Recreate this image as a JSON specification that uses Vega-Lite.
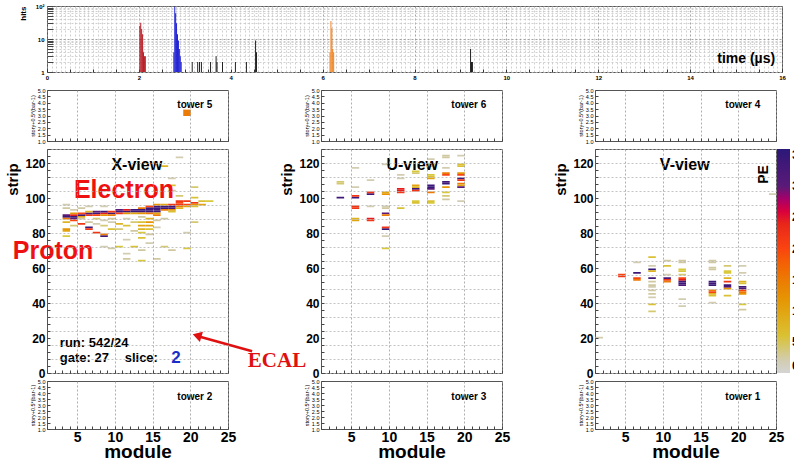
{
"$schema": "https://vega.github.io/schema/vega-lite/v6.json",
"background": "white",
"padding": {"left": 5, "top": 2, "right": 0, "bottom": 0},
"config": {
  "font": "Liberation Sans",
  "view": {"stroke": "#555555", "strokeWidth": 1},
  "axis": {"domain": false, "labelFont": "Liberation Sans", "titleFont": "Liberation Sans", "labelFontWeight": "bold", "titleFontWeight": "bold", "labelColor": "#000000", "titleColor": "#000000", "tickColor": "#444444", "labelOverlap": false, "labelFlush": false, "gridDash": [2, 2], "gridWidth": 0.8},
  "text": {"font": "Liberation Sans"}
},
"datasets": {
  "hits": [
    {"t": 2.01, "hits": 25, "src": "a"}, {"t": 2.03, "hits": 31, "src": "a"}, {"t": 2.05, "hits": 20, "src": "a"}, {"t": 2.07, "hits": 14, "src": "a"}, {"t": 2.09, "hits": 4, "src": "a"}, {"t": 2.11, "hits": 3, "src": "a"}, {"t": 2.13, "hits": 3, "src": "a"},
    {"t": 2.75, "hits": 4, "src": "b"}, {"t": 2.77, "hits": 95, "src": "b"}, {"t": 2.79, "hits": 60, "src": "b"}, {"t": 2.81, "hits": 30, "src": "b"}, {"t": 2.83, "hits": 14, "src": "b"}, {"t": 2.85, "hits": 9, "src": "b"}, {"t": 2.87, "hits": 5, "src": "b"}, {"t": 2.89, "hits": 3, "src": "b"}, {"t": 2.91, "hits": 2, "src": "b"},
    {"t": 6.15, "hits": 4, "src": "c"}, {"t": 6.17, "hits": 35, "src": "c"}, {"t": 6.19, "hits": 21, "src": "c"}, {"t": 6.21, "hits": 5, "src": "c"}, {"t": 6.23, "hits": 4, "src": "c"},
    {"t": 3.15, "hits": 2, "src": "d"}, {"t": 3.27, "hits": 2, "src": "d"}, {"t": 3.31, "hits": 2, "src": "d"}, {"t": 3.35, "hits": 2, "src": "d"}, {"t": 3.55, "hits": 2, "src": "d"}, {"t": 3.67, "hits": 3, "src": "d"}, {"t": 3.69, "hits": 2, "src": "d"}, {"t": 3.81, "hits": 2, "src": "d"}, {"t": 4.09, "hits": 2, "src": "d"}, {"t": 4.33, "hits": 2, "src": "d"}, {"t": 4.53, "hits": 9, "src": "d"}, {"t": 4.55, "hits": 4, "src": "d"}, {"t": 9.21, "hits": 5, "src": "d"}, {"t": 9.23, "hits": 2, "src": "d"}, {"t": 9.25, "hits": 2, "src": "d"}
  ],
  "towers": [{"tower": 5, "module": 19, "story": 3.2, "pe": 15}],
  "cells": [
    {"view":"X","module":3,"strip":89,"pe":34},{"view":"X","module":3,"strip":90,"pe":30},{"view":"X","module":4,"strip":89,"pe":34},{"view":"X","module":4,"strip":90,"pe":25},{"view":"X","module":4,"strip":88,"pe":30},{"view":"X","module":5,"strip":90,"pe":34},{"view":"X","module":5,"strip":91,"pe":20},{"view":"X","module":6,"strip":90,"pe":22},{"view":"X","module":6,"strip":91,"pe":32},{"view":"X","module":7,"strip":91,"pe":34},{"view":"X","module":8,"strip":91,"pe":25},{"view":"X","module":8,"strip":92,"pe":34},{"view":"X","module":9,"strip":91,"pe":34},{"view":"X","module":9,"strip":92,"pe":22},{"view":"X","module":10,"strip":92,"pe":34},{"view":"X","module":11,"strip":92,"pe":34},{"view":"X","module":11,"strip":93,"pe":25},{"view":"X","module":12,"strip":93,"pe":34},{"view":"X","module":13,"strip":92,"pe":34},{"view":"X","module":13,"strip":93,"pe":34},{"view":"X","module":14,"strip":92,"pe":34},{"view":"X","module":14,"strip":93,"pe":34},{"view":"X","module":14,"strip":94,"pe":34},{"view":"X","module":15,"strip":92,"pe":34},{"view":"X","module":15,"strip":93,"pe":34},{"view":"X","module":15,"strip":94,"pe":34},{"view":"X","module":15,"strip":95,"pe":34},{"view":"X","module":16,"strip":94,"pe":34},{"view":"X","module":16,"strip":95,"pe":34},{"view":"X","module":17,"strip":95,"pe":34},{"view":"X","module":17,"strip":94,"pe":32},{"view":"X","module":18,"strip":96,"pe":22},{"view":"X","module":18,"strip":97,"pe":20},{"view":"X","module":18,"strip":98,"pe":22},{"view":"X","module":19,"strip":98,"pe":22},{"view":"X","module":19,"strip":96,"pe":20},{"view":"X","module":20,"strip":97,"pe":22},{"view":"X","module":20,"strip":96,"pe":12},{"view":"X","module":21,"strip":96,"pe":10},{"view":"X","module":21,"strip":98,"pe":6},
    {"view":"X","module":3,"strip":88,"pe":15},{"view":"X","module":4,"strip":91,"pe":12},{"view":"X","module":5,"strip":89,"pe":10},{"view":"X","module":6,"strip":92,"pe":8},{"view":"X","module":7,"strip":90,"pe":20},{"view":"X","module":7,"strip":92,"pe":30},{"view":"X","module":8,"strip":90,"pe":12},{"view":"X","module":9,"strip":90,"pe":15},{"view":"X","module":10,"strip":91,"pe":22},{"view":"X","module":10,"strip":93,"pe":30},{"view":"X","module":11,"strip":91,"pe":12},{"view":"X","module":12,"strip":92,"pe":34},{"view":"X","module":12,"strip":91,"pe":10},{"view":"X","module":13,"strip":94,"pe":15},{"view":"X","module":13,"strip":91,"pe":12},{"view":"X","module":14,"strip":95,"pe":20},{"view":"X","module":14,"strip":91,"pe":15},{"view":"X","module":15,"strip":96,"pe":12},{"view":"X","module":15,"strip":91,"pe":10},{"view":"X","module":16,"strip":93,"pe":15},{"view":"X","module":16,"strip":96,"pe":10},{"view":"X","module":17,"strip":96,"pe":22},{"view":"X","module":17,"strip":93,"pe":12},{"view":"X","module":18,"strip":95,"pe":15},{"view":"X","module":19,"strip":95,"pe":10},{"view":"X","module":20,"strip":95,"pe":6},{"view":"X","module":22,"strip":98,"pe":5},
    {"view":"X","module":4,"strip":87,"pe":20},{"view":"X","module":5,"strip":85,"pe":22},{"view":"X","module":6,"strip":83,"pe":34},{"view":"X","module":6,"strip":82,"pe":22},{"view":"X","module":7,"strip":80,"pe":22},{"view":"X","module":8,"strip":78,"pe":34},{"view":"X","module":8,"strip":79,"pe":15},
    {"view":"X","module":3,"strip":96,"pe":2},{"view":"X","module":3,"strip":94,"pe":3},{"view":"X","module":3,"strip":86,"pe":8},{"view":"X","module":3,"strip":82,"pe":12},{"view":"X","module":3,"strip":81,"pe":10},{"view":"X","module":3,"strip":78,"pe":5},{"view":"X","module":4,"strip":93,"pe":2},{"view":"X","module":4,"strip":84,"pe":4},{"view":"X","module":5,"strip":94,"pe":3},{"view":"X","module":5,"strip":88,"pe":3},{"view":"X","module":6,"strip":95,"pe":2},{"view":"X","module":6,"strip":86,"pe":3},{"view":"X","module":7,"strip":88,"pe":4},{"view":"X","module":7,"strip":85,"pe":2},{"view":"X","module":8,"strip":95,"pe":2},{"view":"X","module":8,"strip":87,"pe":2},{"view":"X","module":8,"strip":84,"pe":4},{"view":"X","module":8,"strip":72,"pe":2},{"view":"X","module":9,"strip":88,"pe":3},{"view":"X","module":9,"strip":86,"pe":2},{"view":"X","module":9,"strip":82,"pe":6},{"view":"X","module":9,"strip":71,"pe":3},{"view":"X","module":10,"strip":85,"pe":8},{"view":"X","module":10,"strip":82,"pe":4},{"view":"X","module":10,"strip":72,"pe":5},{"view":"X","module":11,"strip":88,"pe":2},{"view":"X","module":11,"strip":84,"pe":6},{"view":"X","module":11,"strip":76,"pe":2},{"view":"X","module":11,"strip":68,"pe":2},{"view":"X","module":11,"strip":65,"pe":3},{"view":"X","module":12,"strip":86,"pe":4},{"view":"X","module":12,"strip":81,"pe":3},{"view":"X","module":12,"strip":72,"pe":6},{"view":"X","module":13,"strip":89,"pe":3},{"view":"X","module":13,"strip":86,"pe":6},{"view":"X","module":13,"strip":84,"pe":10},{"view":"X","module":13,"strip":82,"pe":8},{"view":"X","module":13,"strip":80,"pe":5},{"view":"X","module":13,"strip":77,"pe":6},{"view":"X","module":13,"strip":70,"pe":3},{"view":"X","module":13,"strip":64,"pe":5},{"view":"X","module":14,"strip":88,"pe":8},{"view":"X","module":14,"strip":86,"pe":12},{"view":"X","module":14,"strip":84,"pe":10},{"view":"X","module":14,"strip":82,"pe":6},{"view":"X","module":14,"strip":79,"pe":3},{"view":"X","module":14,"strip":74,"pe":2},{"view":"X","module":15,"strip":90,"pe":15},{"view":"X","module":15,"strip":87,"pe":3},{"view":"X","module":15,"strip":83,"pe":2},{"view":"X","module":15,"strip":65,"pe":3},{"view":"X","module":16,"strip":118,"pe":8},{"view":"X","module":16,"strip":88,"pe":3},{"view":"X","module":16,"strip":72,"pe":4},{"view":"X","module":17,"strip":111,"pe":2},{"view":"X","module":17,"strip":107,"pe":6},{"view":"X","module":17,"strip":104,"pe":3},{"view":"X","module":17,"strip":92,"pe":6},{"view":"X","module":17,"strip":70,"pe":3},{"view":"X","module":18,"strip":123,"pe":2},{"view":"X","module":18,"strip":101,"pe":4},{"view":"X","module":18,"strip":94,"pe":8},{"view":"X","module":19,"strip":80,"pe":2},{"view":"X","module":19,"strip":71,"pe":5},{"view":"X","module":20,"strip":106,"pe":4},{"view":"X","module":20,"strip":100,"pe":6},{"view":"X","module":20,"strip":86,"pe":4},
    {"view":"U","module":3,"strip":108,"pe":4},{"view":"U","module":3,"strip":109,"pe":4},{"view":"U","module":3,"strip":100,"pe":34},
    {"view":"U","module":5,"strip":117,"pe":2},{"view":"U","module":5,"strip":106,"pe":2},{"view":"U","module":5,"strip":100,"pe":34},{"view":"U","module":5,"strip":101,"pe":22},{"view":"U","module":5,"strip":94,"pe":22},{"view":"U","module":5,"strip":95,"pe":22},{"view":"U","module":5,"strip":87,"pe":10},{"view":"U","module":5,"strip":88,"pe":8},
    {"view":"U","module":7,"strip":110,"pe":2},{"view":"U","module":7,"strip":102,"pe":34},{"view":"U","module":7,"strip":103,"pe":22},{"view":"U","module":7,"strip":95,"pe":2},{"view":"U","module":7,"strip":88,"pe":25},{"view":"U","module":7,"strip":87,"pe":22},
    {"view":"U","module":9,"strip":119,"pe":2},{"view":"U","module":9,"strip":103,"pe":10},{"view":"U","module":9,"strip":102,"pe":12},{"view":"U","module":9,"strip":95,"pe":2},{"view":"U","module":9,"strip":94,"pe":3},{"view":"U","module":9,"strip":91,"pe":30},{"view":"U","module":9,"strip":90,"pe":15},{"view":"U","module":9,"strip":82,"pe":35},{"view":"U","module":9,"strip":83,"pe":22},{"view":"U","module":9,"strip":78,"pe":2},{"view":"U","module":9,"strip":71,"pe":5},
    {"view":"U","module":11,"strip":113,"pe":2},{"view":"U","module":11,"strip":111,"pe":2},{"view":"U","module":11,"strip":104,"pe":25},{"view":"U","module":11,"strip":105,"pe":25},{"view":"U","module":11,"strip":103,"pe":22},{"view":"U","module":11,"strip":94,"pe":6},
    {"view":"U","module":13,"strip":115,"pe":5},{"view":"U","module":13,"strip":114,"pe":4},{"view":"U","module":13,"strip":107,"pe":10},{"view":"U","module":13,"strip":106,"pe":8},{"view":"U","module":13,"strip":105,"pe":34},{"view":"U","module":13,"strip":104,"pe":22},{"view":"U","module":13,"strip":97,"pe":6},{"view":"U","module":13,"strip":98,"pe":5},
    {"view":"U","module":15,"strip":122,"pe":2},{"view":"U","module":15,"strip":119,"pe":4},{"view":"U","module":15,"strip":118,"pe":3},{"view":"U","module":15,"strip":113,"pe":5},{"view":"U","module":15,"strip":112,"pe":6},{"view":"U","module":15,"strip":111,"pe":10},{"view":"U","module":15,"strip":106,"pe":35},{"view":"U","module":15,"strip":107,"pe":34},{"view":"U","module":15,"strip":105,"pe":30},{"view":"U","module":15,"strip":103,"pe":15},{"view":"U","module":15,"strip":98,"pe":6},{"view":"U","module":15,"strip":97,"pe":5},
    {"view":"U","module":17,"strip":124,"pe":3},{"view":"U","module":17,"strip":123,"pe":3},{"view":"U","module":17,"strip":117,"pe":2},{"view":"U","module":17,"strip":114,"pe":15},{"view":"U","module":17,"strip":113,"pe":20},{"view":"U","module":17,"strip":109,"pe":34},{"view":"U","module":17,"strip":108,"pe":34},{"view":"U","module":17,"strip":106,"pe":12},{"view":"U","module":17,"strip":103,"pe":5},{"view":"U","module":17,"strip":101,"pe":4},{"view":"U","module":17,"strip":99,"pe":3},
    {"view":"U","module":19,"strip":124,"pe":2},{"view":"U","module":19,"strip":119,"pe":6},{"view":"U","module":19,"strip":118,"pe":6},{"view":"U","module":19,"strip":114,"pe":12},{"view":"U","module":19,"strip":113,"pe":20},{"view":"U","module":19,"strip":111,"pe":34},{"view":"U","module":19,"strip":110,"pe":22},{"view":"U","module":19,"strip":108,"pe":15},{"view":"U","module":19,"strip":107,"pe":10},{"view":"U","module":19,"strip":106,"pe":30},{"view":"U","module":19,"strip":98,"pe":2},
    {"view":"V","module":1,"strip":20,"pe":2},
    {"view":"V","module":4,"strip":55,"pe":22},{"view":"V","module":4,"strip":56,"pe":20},
    {"view":"V","module":6,"strip":63,"pe":2},{"view":"V","module":6,"strip":57,"pe":34},{"view":"V","module":6,"strip":54,"pe":20},{"view":"V","module":6,"strip":53,"pe":15},
    {"view":"V","module":8,"strip":66,"pe":6},{"view":"V","module":8,"strip":61,"pe":2},{"view":"V","module":8,"strip":59,"pe":35},{"view":"V","module":8,"strip":58,"pe":8},{"view":"V","module":8,"strip":54,"pe":34},{"view":"V","module":8,"strip":52,"pe":3},{"view":"V","module":8,"strip":50,"pe":3},{"view":"V","module":8,"strip":49,"pe":2},{"view":"V","module":8,"strip":47,"pe":3},{"view":"V","module":8,"strip":45,"pe":3},{"view":"V","module":8,"strip":43,"pe":2},{"view":"V","module":8,"strip":39,"pe":6},{"view":"V","module":8,"strip":35,"pe":4},
    {"view":"V","module":10,"strip":64,"pe":3},{"view":"V","module":10,"strip":61,"pe":6},{"view":"V","module":10,"strip":56,"pe":2},{"view":"V","module":10,"strip":54,"pe":32},{"view":"V","module":10,"strip":53,"pe":22},{"view":"V","module":10,"strip":52,"pe":15},
    {"view":"V","module":12,"strip":64,"pe":3},{"view":"V","module":12,"strip":63,"pe":3},{"view":"V","module":12,"strip":59,"pe":5},{"view":"V","module":12,"strip":58,"pe":5},{"view":"V","module":12,"strip":56,"pe":4},{"view":"V","module":12,"strip":54,"pe":20},{"view":"V","module":12,"strip":53,"pe":25},{"view":"V","module":12,"strip":52,"pe":34},{"view":"V","module":12,"strip":51,"pe":34},{"view":"V","module":12,"strip":50,"pe":32},{"view":"V","module":12,"strip":42,"pe":2},{"view":"V","module":12,"strip":38,"pe":2},
    {"view":"V","module":16,"strip":64,"pe":3},{"view":"V","module":16,"strip":63,"pe":3},{"view":"V","module":16,"strip":60,"pe":3},{"view":"V","module":16,"strip":59,"pe":3},{"view":"V","module":16,"strip":52,"pe":34},{"view":"V","module":16,"strip":51,"pe":34},{"view":"V","module":16,"strip":50,"pe":34},{"view":"V","module":16,"strip":47,"pe":15},{"view":"V","module":16,"strip":46,"pe":20},{"view":"V","module":16,"strip":45,"pe":8},{"view":"V","module":16,"strip":44,"pe":6},{"view":"V","module":16,"strip":40,"pe":2},
    {"view":"V","module":18,"strip":61,"pe":4},{"view":"V","module":18,"strip":58,"pe":5},{"view":"V","module":18,"strip":57,"pe":5},{"view":"V","module":18,"strip":54,"pe":8},{"view":"V","module":18,"strip":52,"pe":22},{"view":"V","module":18,"strip":50,"pe":34},{"view":"V","module":18,"strip":49,"pe":32},{"view":"V","module":18,"strip":48,"pe":12},{"view":"V","module":18,"strip":44,"pe":6},
    {"view":"V","module":20,"strip":61,"pe":2},{"view":"V","module":20,"strip":57,"pe":2},{"view":"V","module":20,"strip":52,"pe":8},{"view":"V","module":20,"strip":51,"pe":6},{"view":"V","module":20,"strip":49,"pe":34},{"view":"V","module":20,"strip":48,"pe":32},{"view":"V","module":20,"strip":47,"pe":20},{"view":"V","module":20,"strip":46,"pe":15},{"view":"V","module":20,"strip":45,"pe":12},{"view":"V","module":20,"strip":39,"pe":5},{"view":"V","module":20,"strip":36,"pe":3},
    {"view":"V","module":24,"strip":102,"pe":2}
  ]
},
"spacing": 18,
"bounds": "flush",
"vconcat": [
  {
    "width": 735, "height": 66,
    "layer": [
      {"data": {"name": "hits"}, "transform": [{"filter": "datum.src === 'a'"}], "mark": {"type": "bar", "color": "#b3141c", "binSpacing": 0},
        "encoding": {
          "x": {"field": "t", "type": "quantitative", "bin": {"step": 0.02, "extent": [0, 16]}, "scale": {"domain": [0, 16], "nice": false, "zero": false},
            "axis": {"title": null, "values": [0,0.1,0.2,0.3,0.4,0.5,0.6,0.7,0.8,0.9,1,1.1,1.2,1.3,1.4,1.5,1.6,1.7,1.8,1.9,2,2.1,2.2,2.3,2.4,2.5,2.6,2.7,2.8,2.9,3,3.1,3.2,3.3,3.4,3.5,3.6,3.7,3.8,3.9,4,4.1,4.2,4.3,4.4,4.5,4.6,4.7,4.8,4.9,5,5.1,5.2,5.3,5.4,5.5,5.6,5.7,5.8,5.9,6,6.1,6.2,6.3,6.4,6.5,6.6,6.7,6.8,6.9,7,7.1,7.2,7.3,7.4,7.5,7.6,7.7,7.8,7.9,8,8.1,8.2,8.3,8.4,8.5,8.6,8.7,8.8,8.9,9,9.1,9.2,9.3,9.4,9.5,9.6,9.7,9.8,9.9,10,10.1,10.2,10.3,10.4,10.5,10.6,10.7,10.8,10.9,11,11.1,11.2,11.3,11.4,11.5,11.6,11.7,11.8,11.9,12,12.1,12.2,12.3,12.4,12.5,12.6,12.7,12.8,12.9,13,13.1,13.2,13.3,13.4,13.5,13.6,13.7,13.8,13.9,14,14.1,14.2,14.3,14.4,14.5,14.6,14.7,14.8,14.9,15,15.1,15.2,15.3,15.4,15.5,15.6,15.7,15.8,15.9,16],
              "labelExpr": "datum.value % 2 === 0 ? '' + datum.value : ''", "labelFontSize": 6, "labelPadding": 5, "tickSize": -3,
              "tickColor": {"condition": {"test": "(datum.value * 2) % 1 === 0", "value": "#333333"}, "value": "rgba(0,0,0,0)"},
              "grid": true, "gridColor": {"condition": {"test": "datum.value % 2 === 0", "value": "#8c8c8c"}, "value": "#c4c4c4"}}},
          "y": {"field": "hits", "type": "quantitative", "scale": {"type": "log", "domain": [1, 100], "nice": false},
            "axis": {"values": [1,2,3,4,5,6,7,8,9,10,20,30,40,50,60,70,80,90,100], "labelExpr": "datum.value === 1 ? '1' : datum.value === 10 ? '10' : datum.value === 100 ? '10²' : ''",
              "labelFontSize": 6, "labelPadding": 9, "tickSize": -6, "title": "hits", "titleFontSize": 8, "titleAnchor": "end", "titlePadding": 8,
              "grid": true, "gridColor": {"condition": {"test": "datum.value === 10 || datum.value === 100", "value": "#8c8c8c"}, "value": "#c4c4c4"}}},
          "y2": {"datum": 1}
        }},
      {"data": {"name": "hits"}, "transform": [{"filter": "datum.src === 'b'"}], "mark": {"type": "bar", "color": "#1414d2", "binSpacing": 0},
        "encoding": {
          "x": {"field": "t", "type": "quantitative", "bin": {"step": 0.02, "extent": [0, 16]}, "scale": {"domain": [0, 16], "nice": false, "zero": false}},
          "y": {"field": "hits", "type": "quantitative", "scale": {"type": "log", "domain": [1, 100], "nice": false}},
          "y2": {"datum": 1}
        }},
      {"data": {"name": "hits"}, "transform": [{"filter": "datum.src === 'c'"}], "mark": {"type": "bar", "color": "#f07a10", "binSpacing": 0},
        "encoding": {
          "x": {"field": "t", "type": "quantitative", "bin": {"step": 0.02, "extent": [0, 16]}, "scale": {"domain": [0, 16], "nice": false, "zero": false}},
          "y": {"field": "hits", "type": "quantitative", "scale": {"type": "log", "domain": [1, 100], "nice": false}},
          "y2": {"datum": 1}
        }},
      {"data": {"name": "hits"}, "transform": [{"filter": "datum.src === 'd'"}], "mark": {"type": "bar", "color": "#111111", "binSpacing": 0},
        "encoding": {
          "x": {"field": "t", "type": "quantitative", "bin": {"step": 0.02, "extent": [0, 16]}, "scale": {"domain": [0, 16], "nice": false, "zero": false}},
          "y": {"field": "hits", "type": "quantitative", "scale": {"type": "log", "domain": [1, 100], "nice": false}},
          "y2": {"datum": 1}
        }},
      {"data": {"values": [{"label": "time (µs)"}]}, "mark": {"type": "text", "fontSize": 14, "fontWeight": "bold", "align": "right", "baseline": "middle"},
        "encoding": {"x": {"datum": 15.85, "type": "quantitative"}, "y": {"datum": 2.4, "type": "quantitative"}, "text": {"field": "label"}}}
    ]
  },
  {
    "columns": 3,
    "spacing": {"row": 8, "column": 93},
    "bounds": "flush",
    "align": "each",
    "concat": [
      {"width": 181, "height": 51, "layer": [
        {"data": {"name": "towers"}, "transform": [{"filter": "datum.tower === 5"}], "mark": "rect",
          "encoding": {
            "x": {"field": "module", "type": "quantitative", "bin": {"step": 1, "extent": [0, 26]}, "scale": {"domain": [1, 25], "nice": false, "zero": false}, "axis": {"values": [1,2,3,4,5,6,7,8,9,10,11,12,13,14,15,16,17,18,19,20,21,22,23,24,25], "labels": false, "tickSize": -3, "title": null, "grid": true, "gridColor": {"condition": {"test": "datum.value % 5 === 0", "value": "#9a9a9a"}, "value": "rgba(0,0,0,0)"}}},
            "y": {"field": "story", "type": "quantitative", "bin": {"step": 0.5, "extent": [1, 5]}, "scale": {"domain": [1, 5], "nice": false, "zero": false}, "axis": {"values": [1,1.5,2,2.5,3,3.5,4,4.5,5], "labelFontSize": 5.5, "labelFontWeight": "normal", "labelPadding": 5, "tickSize": -3, "title": "story+0.5*(bar-1)", "titleFontSize": 5.5, "titleFontWeight": "normal", "titlePadding": 2, "grid": false}},
            "color": {"field": "pe", "type": "quantitative", "scale": {"domain": [0, 3, 5, 10, 15, 20, 25, 30, 36], "range": ["#d4d4d4", "#d0c8a0", "#d8c83c", "#e2a410", "#ec7a06", "#fa4410", "#e41c1c", "#5a1a78", "#2a1878"]}, "legend": {"orient": "none", "legendX": 730, "legendY": 143, "direction": "vertical", "gradientLength": 224, "gradientThickness": 13, "title": null, "values": [0,5,10,15,20,25,30,35], "labelFontSize": 13, "labelFontWeight": "bold", "labelOffset": 2, "gradientStrokeWidth": 0}}
          }},
        {"data": {"values": [{"label": "tower  5"}]}, "mark": {"type": "text", "fontSize": 10, "fontWeight": "bold"}, "encoding": {"x": {"datum": 20.6}, "y": {"datum": 3.8}, "text": {"field": "label"}}}
      ]},
      {"width": 181, "height": 51, "layer": [
        {"data": {"name": "towers"}, "transform": [{"filter": "datum.tower === 6"}], "mark": "rect",
          "encoding": {
            "x": {"field": "module", "type": "quantitative", "bin": {"step": 1, "extent": [0, 26]}, "scale": {"domain": [1, 25], "nice": false, "zero": false}, "axis": {"values": [1,2,3,4,5,6,7,8,9,10,11,12,13,14,15,16,17,18,19,20,21,22,23,24,25], "labels": false, "tickSize": -3, "title": null, "grid": true, "gridColor": {"condition": {"test": "datum.value % 5 === 0", "value": "#9a9a9a"}, "value": "rgba(0,0,0,0)"}}},
            "y": {"field": "story", "type": "quantitative", "bin": {"step": 0.5, "extent": [1, 5]}, "scale": {"domain": [1, 5], "nice": false, "zero": false}, "axis": {"values": [1,1.5,2,2.5,3,3.5,4,4.5,5], "labelFontSize": 5.5, "labelFontWeight": "normal", "labelPadding": 5, "tickSize": -3, "title": "story+0.5*(bar-1)", "titleFontSize": 5.5, "titleFontWeight": "normal", "titlePadding": 2, "grid": false}},
            "color": {"field": "pe", "type": "quantitative", "scale": {"domain": [0, 3, 5, 10, 15, 20, 25, 30, 36], "range": ["#d4d4d4", "#d0c8a0", "#d8c83c", "#e2a410", "#ec7a06", "#fa4410", "#e41c1c", "#5a1a78", "#2a1878"]}, "legend": {"orient": "none", "legendX": 730, "legendY": 143, "direction": "vertical", "gradientLength": 224, "gradientThickness": 13, "title": null, "values": [0,5,10,15,20,25,30,35], "labelFontSize": 13, "labelFontWeight": "bold", "labelOffset": 2, "gradientStrokeWidth": 0}}
          }},
        {"data": {"values": [{"label": "tower  6"}]}, "mark": {"type": "text", "fontSize": 10, "fontWeight": "bold"}, "encoding": {"x": {"datum": 20.6}, "y": {"datum": 3.8}, "text": {"field": "label"}}}
      ]},
      {"width": 181, "height": 51, "layer": [
        {"data": {"name": "towers"}, "transform": [{"filter": "datum.tower === 4"}], "mark": "rect",
          "encoding": {
            "x": {"field": "module", "type": "quantitative", "bin": {"step": 1, "extent": [0, 26]}, "scale": {"domain": [1, 25], "nice": false, "zero": false}, "axis": {"values": [1,2,3,4,5,6,7,8,9,10,11,12,13,14,15,16,17,18,19,20,21,22,23,24,25], "labels": false, "tickSize": -3, "title": null, "grid": true, "gridColor": {"condition": {"test": "datum.value % 5 === 0", "value": "#9a9a9a"}, "value": "rgba(0,0,0,0)"}}},
            "y": {"field": "story", "type": "quantitative", "bin": {"step": 0.5, "extent": [1, 5]}, "scale": {"domain": [1, 5], "nice": false, "zero": false}, "axis": {"values": [1,1.5,2,2.5,3,3.5,4,4.5,5], "labelFontSize": 5.5, "labelFontWeight": "normal", "labelPadding": 5, "tickSize": -3, "title": "story+0.5*(bar-1)", "titleFontSize": 5.5, "titleFontWeight": "normal", "titlePadding": 2, "grid": false}},
            "color": {"field": "pe", "type": "quantitative", "scale": {"domain": [0, 3, 5, 10, 15, 20, 25, 30, 36], "range": ["#d4d4d4", "#d0c8a0", "#d8c83c", "#e2a410", "#ec7a06", "#fa4410", "#e41c1c", "#5a1a78", "#2a1878"]}, "legend": {"orient": "none", "legendX": 730, "legendY": 143, "direction": "vertical", "gradientLength": 224, "gradientThickness": 13, "title": null, "values": [0,5,10,15,20,25,30,35], "labelFontSize": 13, "labelFontWeight": "bold", "labelOffset": 2, "gradientStrokeWidth": 0}}
          }},
        {"data": {"values": [{"label": "tower  4"}]}, "mark": {"type": "text", "fontSize": 10, "fontWeight": "bold"}, "encoding": {"x": {"datum": 20.6}, "y": {"datum": 3.8}, "text": {"field": "label"}}}
      ]},
      {"width": 181, "height": 224, "layer": [
        {"data": {"name": "cells"}, "transform": [{"filter": "datum.view === 'X'"}], "mark": "rect",
          "encoding": {
            "x": {"field": "module", "type": "quantitative", "bin": {"step": 1, "extent": [0, 26]}, "scale": {"domain": [1, 25], "nice": false, "zero": false}, "axis": {"values": [1,2,3,4,5,6,7,8,9,10,11,12,13,14,15,16,17,18,19,20,21,22,23,24,25], "labels": false, "tickSize": -3, "title": null, "grid": true, "gridColor": {"condition": {"test": "datum.value % 5 === 0", "value": "#9a9a9a"}, "value": "rgba(0,0,0,0)"}}},
            "y": {"field": "strip", "type": "quantitative", "bin": {"step": 1, "extent": [0, 128]}, "scale": {"domain": [0, 128], "nice": false, "zero": false}, "axis": {"values": [0,4,8,12,16,20,24,28,32,36,40,44,48,52,56,60,64,68,72,76,80,84,88,92,96,100,104,108,112,116,120,124,128], "labelExpr": "datum.value % 20 === 0 ? datum.label : ''", "labelFontSize": 12, "labelPadding": 5, "tickSize": -3, "title": "strip", "titleFontSize": 15, "titleY": 30, "titleAlign": "center", "titlePadding": 4, "grid": true, "gridColor": {"condition": {"test": "datum.value % 8 === 0", "value": "#b5b5b5"}, "value": "rgba(0,0,0,0)"}}},
            "color": {"field": "pe", "type": "quantitative", "scale": {"domain": [0, 3, 5, 10, 15, 20, 25, 30, 36], "range": ["#d4d4d4", "#d0c8a0", "#d8c83c", "#e2a410", "#ec7a06", "#fa4410", "#e41c1c", "#5a1a78", "#2a1878"]}, "legend": {"orient": "none", "legendX": 730, "legendY": 143, "direction": "vertical", "gradientLength": 224, "gradientThickness": 13, "title": null, "values": [0,5,10,15,20,25,30,35], "labelFontSize": 13, "labelFontWeight": "bold", "labelOffset": 2, "gradientStrokeWidth": 0}}
          }},
        {"data": {"values": [{"label": "X-view"}]}, "mark": {"type": "text", "fontSize": 16, "fontWeight": "bold"}, "encoding": {"x": {"datum": 12.9}, "y": {"datum": 118.7}, "text": {"field": "label"}}},
        {"data": {"values": [{"label": "Electron"}]}, "mark": {"type": "text", "fontSize": 25, "fontWeight": "bold", "color": "#ee1111"}, "encoding": {"x": {"datum": 11.2}, "y": {"datum": 104.4}, "text": {"field": "label"}}},
        {"data": {"values": [{"label": "Proton"}]}, "mark": {"type": "text", "fontSize": 25, "fontWeight": "bold", "color": "#ee1111"}, "encoding": {"x": {"datum": 1.8}, "y": {"datum": 70}, "text": {"field": "label"}}},
        {"data": {"values": [{"label": "run: 542/24"}]}, "mark": {"type": "text", "fontSize": 13, "fontWeight": "bold", "align": "left"}, "encoding": {"x": {"datum": 2.7}, "y": {"datum": 17.1}, "text": {"field": "label"}}},
        {"data": {"values": [{"label": "gate: 27"}]}, "mark": {"type": "text", "fontSize": 13, "fontWeight": "bold", "align": "left"}, "encoding": {"x": {"datum": 2.7}, "y": {"datum": 8.4}, "text": {"field": "label"}}},
        {"data": {"values": [{"label": "slice:"}]}, "mark": {"type": "text", "fontSize": 13, "fontWeight": "bold", "align": "left"}, "encoding": {"x": {"datum": 11.3}, "y": {"datum": 8.4}, "text": {"field": "label"}}},
        {"data": {"values": [{"label": "2"}]}, "mark": {"type": "text", "fontSize": 17, "fontWeight": "bold", "color": "#1a2fc8"}, "encoding": {"x": {"datum": 18.1}, "y": {"datum": 8.6}, "text": {"field": "label"}}},
        {"data": {"values": [{"label": "ECAL"}]}, "mark": {"type": "text", "fontSize": 21, "fontWeight": "bold", "font": "Liberation Serif", "color": "#e01010"}, "encoding": {"x": {"datum": 31.5}, "y": {"datum": 6.7}, "text": {"field": "label"}}},
        {"data": {"values": [{"label": "arrow"}]}, "mark": {"type": "rule", "color": "#e01010", "strokeWidth": 2.5}, "encoding": {"x": {"datum": 28.2}, "y": {"datum": 12.4}, "x2": {"datum": 21.4}, "y2": {"datum": 20.6}}},
        {"data": {"values": [{"label": "arrow"}]}, "mark": {"type": "point", "shape": "triangle-left", "filled": true, "color": "#e01010", "size": 110, "angle": 17, "opacity": 1}, "encoding": {"x": {"datum": 20.9}, "y": {"datum": 21.4}}}
      ]},
      {"width": 181, "height": 224, "layer": [
        {"data": {"name": "cells"}, "transform": [{"filter": "datum.view === 'U'"}], "mark": "rect",
          "encoding": {
            "x": {"field": "module", "type": "quantitative", "bin": {"step": 1, "extent": [0, 26]}, "scale": {"domain": [1, 25], "nice": false, "zero": false}, "axis": {"values": [1,2,3,4,5,6,7,8,9,10,11,12,13,14,15,16,17,18,19,20,21,22,23,24,25], "labels": false, "tickSize": -3, "title": null, "grid": true, "gridColor": {"condition": {"test": "datum.value % 5 === 0", "value": "#9a9a9a"}, "value": "rgba(0,0,0,0)"}}},
            "y": {"field": "strip", "type": "quantitative", "bin": {"step": 1, "extent": [0, 128]}, "scale": {"domain": [0, 128], "nice": false, "zero": false}, "axis": {"values": [0,4,8,12,16,20,24,28,32,36,40,44,48,52,56,60,64,68,72,76,80,84,88,92,96,100,104,108,112,116,120,124,128], "labelExpr": "datum.value % 20 === 0 ? datum.label : ''", "labelFontSize": 12, "labelPadding": 5, "tickSize": -3, "title": "strip", "titleFontSize": 15, "titleY": 30, "titleAlign": "center", "titlePadding": 4, "grid": true, "gridColor": {"condition": {"test": "datum.value % 8 === 0", "value": "#b5b5b5"}, "value": "rgba(0,0,0,0)"}}},
            "color": {"field": "pe", "type": "quantitative", "scale": {"domain": [0, 3, 5, 10, 15, 20, 25, 30, 36], "range": ["#d4d4d4", "#d0c8a0", "#d8c83c", "#e2a410", "#ec7a06", "#fa4410", "#e41c1c", "#5a1a78", "#2a1878"]}, "legend": {"orient": "none", "legendX": 730, "legendY": 143, "direction": "vertical", "gradientLength": 224, "gradientThickness": 13, "title": null, "values": [0,5,10,15,20,25,30,35], "labelFontSize": 13, "labelFontWeight": "bold", "labelOffset": 2, "gradientStrokeWidth": 0}}
          }},
        {"data": {"values": [{"label": "U-view"}]}, "mark": {"type": "text", "fontSize": 16, "fontWeight": "bold"}, "encoding": {"x": {"datum": 13.1}, "y": {"datum": 118.7}, "text": {"field": "label"}}}
      ]},
      {"width": 181, "height": 224, "layer": [
        {"data": {"name": "cells"}, "transform": [{"filter": "datum.view === 'V'"}], "mark": "rect",
          "encoding": {
            "x": {"field": "module", "type": "quantitative", "bin": {"step": 1, "extent": [0, 26]}, "scale": {"domain": [1, 25], "nice": false, "zero": false}, "axis": {"values": [1,2,3,4,5,6,7,8,9,10,11,12,13,14,15,16,17,18,19,20,21,22,23,24,25], "labels": false, "tickSize": -3, "title": null, "grid": true, "gridColor": {"condition": {"test": "datum.value % 5 === 0", "value": "#9a9a9a"}, "value": "rgba(0,0,0,0)"}}},
            "y": {"field": "strip", "type": "quantitative", "bin": {"step": 1, "extent": [0, 128]}, "scale": {"domain": [0, 128], "nice": false, "zero": false}, "axis": {"values": [0,4,8,12,16,20,24,28,32,36,40,44,48,52,56,60,64,68,72,76,80,84,88,92,96,100,104,108,112,116,120,124,128], "labelExpr": "datum.value % 20 === 0 ? datum.label : ''", "labelFontSize": 12, "labelPadding": 5, "tickSize": -3, "title": "strip", "titleFontSize": 15, "titleY": 30, "titleAlign": "center", "titlePadding": 4, "grid": true, "gridColor": {"condition": {"test": "datum.value % 8 === 0", "value": "#b5b5b5"}, "value": "rgba(0,0,0,0)"}}},
            "color": {"field": "pe", "type": "quantitative", "scale": {"domain": [0, 3, 5, 10, 15, 20, 25, 30, 36], "range": ["#d4d4d4", "#d0c8a0", "#d8c83c", "#e2a410", "#ec7a06", "#fa4410", "#e41c1c", "#5a1a78", "#2a1878"]}, "legend": {"orient": "none", "legendX": 730, "legendY": 143, "direction": "vertical", "gradientLength": 224, "gradientThickness": 13, "title": null, "values": [0,5,10,15,20,25,30,35], "labelFontSize": 13, "labelFontWeight": "bold", "labelOffset": 2, "gradientStrokeWidth": 0}}
          }},
        {"data": {"values": [{"label": "V-view"}]}, "mark": {"type": "text", "fontSize": 16, "fontWeight": "bold"}, "encoding": {"x": {"datum": 12.9}, "y": {"datum": 118.7}, "text": {"field": "label"}}},
        {"data": {"values": [{"label": "PE"}]}, "mark": {"type": "text", "fontSize": 14, "fontWeight": "bold", "angle": 270}, "encoding": {"x": {"datum": 23.4}, "y": {"datum": 113.5}, "text": {"field": "label"}}}
      ]},
      {"width": 181, "height": 48, "layer": [
        {"data": {"name": "towers"}, "transform": [{"filter": "datum.tower === 2"}], "mark": "rect",
          "encoding": {
            "x": {"field": "module", "type": "quantitative", "bin": {"step": 1, "extent": [0, 26]}, "scale": {"domain": [1, 25], "nice": false, "zero": false}, "axis": {"values": [1,2,3,4,5,6,7,8,9,10,11,12,13,14,15,16,17,18,19,20,21,22,23,24,25], "labelExpr": "datum.value % 5 === 0 ? datum.label : ''", "labelFontSize": 14, "labelPadding": 4, "tickSize": -3, "title": "module", "titleFontSize": 19, "titlePadding": -2, "grid": true, "gridColor": {"condition": {"test": "datum.value % 5 === 0", "value": "#9a9a9a"}, "value": "rgba(0,0,0,0)"}}},
            "y": {"field": "story", "type": "quantitative", "bin": {"step": 0.5, "extent": [1, 5]}, "scale": {"domain": [1, 5], "nice": false, "zero": false}, "axis": {"values": [1,1.5,2,2.5,3,3.5,4,4.5,5], "labelFontSize": 5.5, "labelFontWeight": "normal", "labelPadding": 5, "tickSize": -3, "title": "story+0.5*(bar-1)", "titleFontSize": 5.5, "titleFontWeight": "normal", "titlePadding": 2, "grid": false}},
            "color": {"field": "pe", "type": "quantitative", "scale": {"domain": [0, 3, 5, 10, 15, 20, 25, 30, 36], "range": ["#d4d4d4", "#d0c8a0", "#d8c83c", "#e2a410", "#ec7a06", "#fa4410", "#e41c1c", "#5a1a78", "#2a1878"]}, "legend": {"orient": "none", "legendX": 730, "legendY": 143, "direction": "vertical", "gradientLength": 224, "gradientThickness": 13, "title": null, "values": [0,5,10,15,20,25,30,35], "labelFontSize": 13, "labelFontWeight": "bold", "labelOffset": 2, "gradientStrokeWidth": 0}}
          }},
        {"data": {"values": [{"label": "tower  2"}]}, "mark": {"type": "text", "fontSize": 10, "fontWeight": "bold"}, "encoding": {"x": {"datum": 20.6}, "y": {"datum": 3.7}, "text": {"field": "label"}}}
      ]},
      {"width": 181, "height": 48, "layer": [
        {"data": {"name": "towers"}, "transform": [{"filter": "datum.tower === 3"}], "mark": "rect",
          "encoding": {
            "x": {"field": "module", "type": "quantitative", "bin": {"step": 1, "extent": [0, 26]}, "scale": {"domain": [1, 25], "nice": false, "zero": false}, "axis": {"values": [1,2,3,4,5,6,7,8,9,10,11,12,13,14,15,16,17,18,19,20,21,22,23,24,25], "labelExpr": "datum.value % 5 === 0 ? datum.label : ''", "labelFontSize": 14, "labelPadding": 4, "tickSize": -3, "title": "module", "titleFontSize": 19, "titlePadding": -2, "grid": true, "gridColor": {"condition": {"test": "datum.value % 5 === 0", "value": "#9a9a9a"}, "value": "rgba(0,0,0,0)"}}},
            "y": {"field": "story", "type": "quantitative", "bin": {"step": 0.5, "extent": [1, 5]}, "scale": {"domain": [1, 5], "nice": false, "zero": false}, "axis": {"values": [1,1.5,2,2.5,3,3.5,4,4.5,5], "labelFontSize": 5.5, "labelFontWeight": "normal", "labelPadding": 5, "tickSize": -3, "title": "story+0.5*(bar-1)", "titleFontSize": 5.5, "titleFontWeight": "normal", "titlePadding": 2, "grid": false}},
            "color": {"field": "pe", "type": "quantitative", "scale": {"domain": [0, 3, 5, 10, 15, 20, 25, 30, 36], "range": ["#d4d4d4", "#d0c8a0", "#d8c83c", "#e2a410", "#ec7a06", "#fa4410", "#e41c1c", "#5a1a78", "#2a1878"]}, "legend": {"orient": "none", "legendX": 730, "legendY": 143, "direction": "vertical", "gradientLength": 224, "gradientThickness": 13, "title": null, "values": [0,5,10,15,20,25,30,35], "labelFontSize": 13, "labelFontWeight": "bold", "labelOffset": 2, "gradientStrokeWidth": 0}}
          }},
        {"data": {"values": [{"label": "tower  3"}]}, "mark": {"type": "text", "fontSize": 10, "fontWeight": "bold"}, "encoding": {"x": {"datum": 20.6}, "y": {"datum": 3.7}, "text": {"field": "label"}}}
      ]},
      {"width": 181, "height": 48, "layer": [
        {"data": {"name": "towers"}, "transform": [{"filter": "datum.tower === 1"}], "mark": "rect",
          "encoding": {
            "x": {"field": "module", "type": "quantitative", "bin": {"step": 1, "extent": [0, 26]}, "scale": {"domain": [1, 25], "nice": false, "zero": false}, "axis": {"values": [1,2,3,4,5,6,7,8,9,10,11,12,13,14,15,16,17,18,19,20,21,22,23,24,25], "labelExpr": "datum.value % 5 === 0 ? datum.label : ''", "labelFontSize": 14, "labelPadding": 4, "tickSize": -3, "title": "module", "titleFontSize": 19, "titlePadding": -2, "grid": true, "gridColor": {"condition": {"test": "datum.value % 5 === 0", "value": "#9a9a9a"}, "value": "rgba(0,0,0,0)"}}},
            "y": {"field": "story", "type": "quantitative", "bin": {"step": 0.5, "extent": [1, 5]}, "scale": {"domain": [1, 5], "nice": false, "zero": false}, "axis": {"values": [1,1.5,2,2.5,3,3.5,4,4.5,5], "labelFontSize": 5.5, "labelFontWeight": "normal", "labelPadding": 5, "tickSize": -3, "title": "story+0.5*(bar-1)", "titleFontSize": 5.5, "titleFontWeight": "normal", "titlePadding": 2, "grid": false}},
            "color": {"field": "pe", "type": "quantitative", "scale": {"domain": [0, 3, 5, 10, 15, 20, 25, 30, 36], "range": ["#d4d4d4", "#d0c8a0", "#d8c83c", "#e2a410", "#ec7a06", "#fa4410", "#e41c1c", "#5a1a78", "#2a1878"]}, "legend": {"orient": "none", "legendX": 730, "legendY": 143, "direction": "vertical", "gradientLength": 224, "gradientThickness": 13, "title": null, "values": [0,5,10,15,20,25,30,35], "labelFontSize": 13, "labelFontWeight": "bold", "labelOffset": 2, "gradientStrokeWidth": 0}}
          }},
        {"data": {"values": [{"label": "tower  1"}]}, "mark": {"type": "text", "fontSize": 10, "fontWeight": "bold"}, "encoding": {"x": {"datum": 20.6}, "y": {"datum": 3.7}, "text": {"field": "label"}}}
      ]}
    ]
  }
]
}
